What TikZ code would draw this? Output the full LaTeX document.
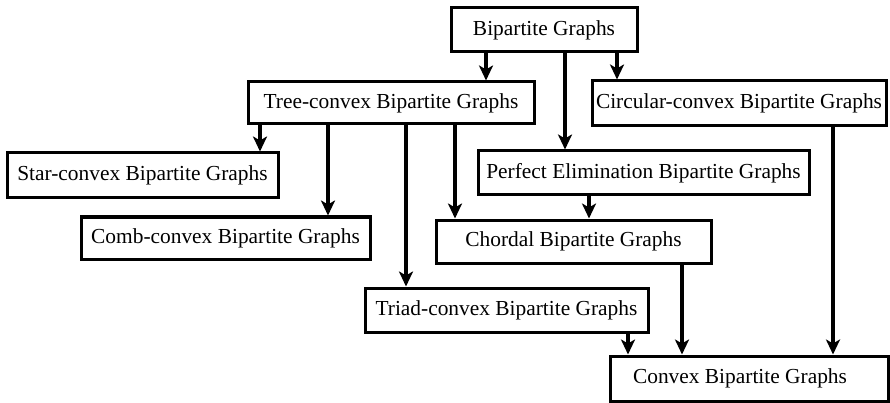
\documentclass[tikz,border=0pt]{standalone}
\usepackage{fontspec}
\setmainfont{Liberation Serif}
\usepackage{tikz}
\usetikzlibrary{arrows.meta, positioning}

\tikzset{
    gbox/.style={draw, line width=3pt, minimum height=44pt, inner sep=0pt,
        font=\fontsize{21.4}{24}\selectfont},
    arr/.style={line width=4pt, -{Stealth[length=15pt, width=14pt, inset=4pt]}}
}

\begin{document}
\begin{tikzpicture}[x=1pt, y=-1pt]
    \useasboundingbox (0, 0) rectangle (890, 403);
    \node[gbox, minimum width=186pt] (bip) at (544, 30) {Bipartite Graphs};
    \node[gbox, minimum width=286pt, minimum height=42pt] (tree) at (391, 103) {Tree-convex Bipartite Graphs};
    \node[gbox, minimum width=294pt, minimum height=45pt] (circ) at (739, 103.5) {Circular-convex Bipartite Graphs};
    \node[gbox, minimum width=271pt, minimum height=45pt] (star) at (142.5, 175.5) {Star-convex Bipartite Graphs};
    \node[gbox, minimum width=331pt] (perf) at (643.5, 173) {Perfect Elimination Bipartite Graphs};
    \node[gbox, minimum width=289pt, minimum height=42pt] (comb) at (225.5, 238) {Comb-convex Bipartite Graphs};
    \node[gbox, minimum width=275pt, minimum height=43pt] (chord) at (573.5, 241.5) {Chordal Bipartite Graphs};
    \node[gbox, minimum width=283pt] (triad) at (506.5, 310) {Triad-convex Bipartite Graphs};
    \node[gbox, minimum width=278pt, minimum height=45pt] (conv) at (749, 378.5) {\hspace*{-18pt}Convex Bipartite Graphs};
    \draw[arr] (bip.south -| 486,0) -- (tree.north -| 486,0);
    \draw[arr] (bip.south -| 565,0) -- (perf.north -| 565,0);
    \draw[arr] (bip.south -| 617,0) -- (circ.north -| 617,0);
    \draw[arr] (tree.south -| 260,0) -- (star.north -| 260,0);
    \draw[arr] (tree.south -| 328,0) -- (comb.north -| 328,0);
    \draw[arr] (tree.south -| 406,0) -- (triad.north -| 406,0);
    \draw[arr] (tree.south -| 455,0) -- (chord.north -| 455,0);
    \draw[arr] (perf.south -| 589,0) -- (chord.north -| 589,0);
    \draw[arr] (circ.south -| 833,0) -- (conv.north -| 833,0);
    \draw[arr] (chord.south -| 682,0) -- (conv.north -| 682,0);
    \draw[arr] (triad.south -| 628,0) -- (conv.north -| 628,0);
\end{tikzpicture}
\end{document}
